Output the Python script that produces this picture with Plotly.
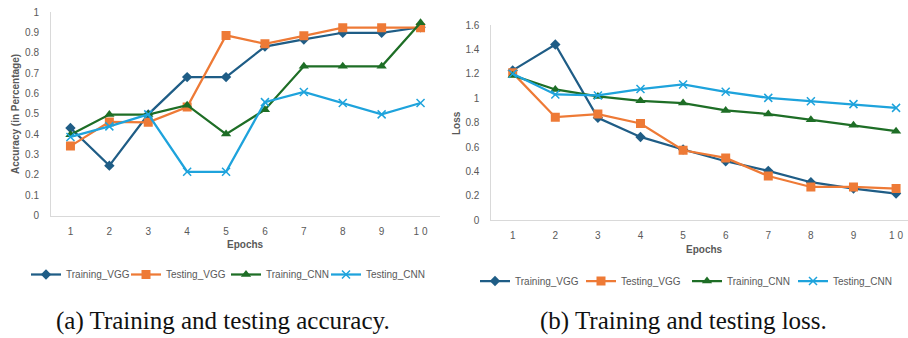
import plotly.graph_objects as go

epochs = [1, 2, 3, 4, 5, 6, 7, 8, 9, 10]
epoch_labels = ["1", "2", "3", "4", "5", "6", "7", "8", "9", "1 0"]

acc_train_vgg = [0.43, 0.245, 0.497, 0.68, 0.68, 0.83, 0.865, 0.898, 0.898, 0.925]
acc_test_vgg = [0.341, 0.46, 0.458, 0.533, 0.885, 0.844, 0.883, 0.923, 0.923, 0.923]
acc_train_cnn = [0.397, 0.496, 0.496, 0.542, 0.40, 0.52, 0.733, 0.733, 0.733, 0.947]
acc_test_cnn = [0.386, 0.438, 0.497, 0.215, 0.215, 0.557, 0.607, 0.553, 0.497, 0.553]

loss_train_vgg = [1.228, 1.44, 0.84, 0.683, 0.58, 0.484, 0.405, 0.312, 0.26, 0.219]
loss_test_vgg = [1.208, 0.845, 0.87, 0.793, 0.574, 0.511, 0.363, 0.273, 0.273, 0.26]
loss_train_cnn = [1.187, 1.072, 1.015, 0.979, 0.96, 0.90, 0.87, 0.823, 0.779, 0.73]
loss_test_cnn = [1.20, 1.031, 1.023, 1.075, 1.113, 1.053, 1.003, 0.976, 0.952, 0.921]

acc_ticks = [0, 0.1, 0.2, 0.3, 0.4, 0.5, 0.6, 0.7, 0.8, 0.9, 1]
loss_ticks = [0, 0.2, 0.4, 0.6, 0.8, 1, 1.2, 1.4, 1.6]

names = ["Training_VGG", "Testing_VGG", "Training_CNN", "Testing_CNN"]
colors = ["#1F5D86", "#EE7A36", "#1E6E26", "#1EA3DC"]
symbols = ["diamond", "square", "triangle-up", "x-thin"]
msizes = [8, 9, 9, 8]

W, H = 908, 338
FONT = "Liberation Sans"
GRAY = "#595959"

fig = go.Figure()

def add_series(ys_list, xaxis, yaxis, legend):
    for name, ys, c, s, ms in zip(names, ys_list, colors, symbols, msizes):
        marker = dict(symbol=s, size=ms, color=c)
        if s == "x-thin":
            marker["line"] = dict(color=c, width=1.5)
        fig.add_trace(go.Scatter(
            x=epochs, y=ys, name=name, mode="lines+markers",
            line=dict(color=c, width=2.25), marker=marker,
            xaxis=xaxis, yaxis=yaxis, legend=legend,
        ))

add_series([acc_train_vgg, acc_test_vgg, acc_train_cnn, acc_test_cnn], "x", "y", "legend")
add_series([loss_train_vgg, loss_test_vgg, loss_train_cnn, loss_test_cnn], "x2", "y2", "legend2")

axis_common = dict(showgrid=False, zeroline=False, showline=True, linecolor="#D9D9D9",
                   linewidth=1, tickfont=dict(family=FONT, size=10, color=GRAY), ticks="")

legend_common = dict(orientation="h", xanchor="left", yanchor="middle",
                     font=dict(family=FONT, size=10, color=GRAY), entrywidthmode="pixels",
                     itemwidth=30, bgcolor="rgba(0,0,0,0)", tracegroupgap=0)

fig.update_layout(
    width=W, height=H, margin=dict(l=0, r=0, t=0, b=0, autoexpand=False),
    paper_bgcolor="white", plot_bgcolor="white",
    xaxis=dict(domain=[51 / W, 440 / W], range=[0.5, 10.5], tickvals=epochs, ticktext=epoch_labels,
               anchor="y", ticklabelstandoff=6, **axis_common),
    yaxis=dict(domain=[1 - 215.5 / H, 1 - 12 / H], range=[0, 1], tickvals=acc_ticks,
               anchor="x", ticklabelstandoff=9, **axis_common),
    xaxis2=dict(domain=[491.4 / W, 1.0], range=[0.5, 10.28], tickvals=epochs, ticktext=epoch_labels,
                anchor="y2", ticklabelstandoff=6, **axis_common),
    yaxis2=dict(domain=[1 - 220.3 / H, 1 - 25 / H], range=[0, 1.6], tickvals=loss_ticks,
                anchor="x2", ticklabelstandoff=9, **axis_common),
    legend=dict(x=26 / W, y=1 - 274.5 / H, entrywidth=55, **legend_common),
    legend2=dict(x=475 / W, y=1 - 281 / H, entrywidth=61, **legend_common),
    showlegend=True,
)

annotations = [
    dict(text="<b>Epochs</b>", x=245.5 / W, y=1 - 244.5 / H, font=dict(family=FONT, size=10, color=GRAY)),
    dict(text="<b>Epochs</b>", x=704 / W, y=1 - 249.5 / H, font=dict(family=FONT, size=10, color=GRAY)),
    dict(text="<b>Accuracy (in Percentage)</b>", x=16 / W, y=1 - 114 / H, textangle=-90,
         font=dict(family=FONT, size=10, color=GRAY)),
    dict(text="<b>Loss</b>", x=457 / W, y=1 - 123 / H, textangle=-90,
         font=dict(family=FONT, size=10, color=GRAY)),
    dict(text="(a) Training and testing accuracy.", x=223 / W, y=1 - 321 / H,
         font=dict(family="Liberation Serif", size=25, color="#111111")),
    dict(text="(b) Training and testing loss.", x=683 / W, y=1 - 321 / H,
         font=dict(family="Liberation Serif", size=25, color="#111111")),
]
for a in annotations:
    a.update(xref="paper", yref="paper", showarrow=False, xanchor="center", yanchor="middle")
fig.update_layout(annotations=annotations)

fig.write_html("out.html", config={"displayModeBar": False},
               post_script="document.body.style.margin='0';document.body.style.overflow='hidden';")
